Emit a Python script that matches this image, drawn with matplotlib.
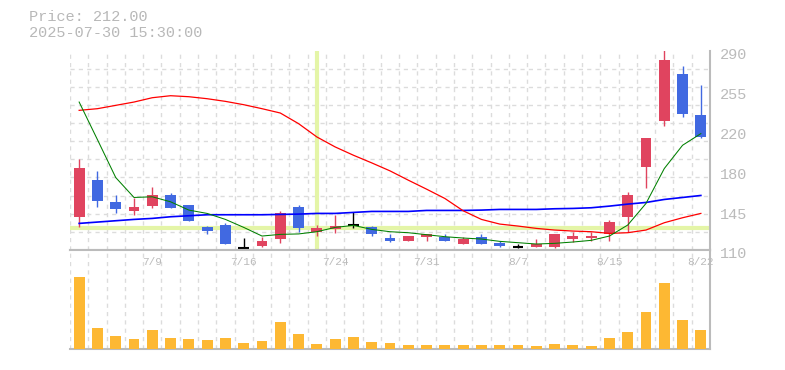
import numpy as np
import matplotlib
matplotlib.use('Agg')
import matplotlib.pyplot as plt
import matplotlib.transforms as mtransforms

plt.rcParams['font.family'] = ['Liberation Mono', 'DejaVu Sans Mono']

# daily bars, 2025-07-03 .. 2025-08-22
dates = ['7/3', '7/4', '7/7', '7/8', '7/9', '7/10', '7/11', '7/14', '7/15', '7/16',
         '7/17', '7/18', '7/22', '7/23', '7/24', '7/25', '7/28', '7/29', '7/30', '7/31',
         '8/1', '8/4', '8/5', '8/6', '8/7', '8/8', '8/12', '8/13', '8/14', '8/15',
         '8/18', '8/19', '8/20', '8/21', '8/22']
opens = [140, 173, 153, 145, 150, 160, 151, 131, 133, 112,
         114, 120, 149, 126, 129, 133, 131, 121, 118, 122,
         122, 115, 122, 116, 113, 113, 113, 120, 121, 124,
         140, 185, 226, 269, 232]
highs = [192, 181, 160, 157, 167, 161, 151, 132, 134, 121,
         122, 145, 151, 133, 142, 144, 132, 124, 123, 124,
         124, 122, 124, 118, 115, 120, 124, 126, 126, 137,
         162, 211, 291, 276, 259]
lows = [131, 149, 143, 142, 148, 148, 136, 124, 115, 109,
        113, 116, 126, 123, 125, 130, 123, 117, 118, 118,
        118, 115, 115, 113, 112, 113, 112, 117, 118, 118,
        126, 166, 222, 230, 211]
closes = [184, 154, 147, 149, 160, 148, 136, 127, 115, 112,
          118, 143, 130, 130, 132, 133, 124, 118, 123, 124,
          118, 120, 115, 114, 113, 115, 124, 123, 123, 135,
          160, 211, 281, 233, 212]
volumes = [215, 65, 40, 32, 58, 34, 32, 28, 34, 19,
           25, 82, 47, 16, 31, 37, 23, 19, 13, 12,
           12, 12, 12, 12, 12, 9, 15, 12, 9, 33,
           51, 111, 198, 87, 57]

ma_short = [243.5, 209.6, 175.4, 157.4, 158.0, 153.5, 146.0, 143.0, 137.6, 130.4,
            122.6, 124.1, 124.5, 126.5, 130.4, 132.2, 128.6, 126.5, 125.6, 123.8,
            122.0, 120.8, 119.9, 117.8, 116.6, 115.4, 116.0, 117.2, 118.7, 122.6,
            132.5, 152.0, 183.5, 204.5, 215.0]
ma_mid = [236.0, 237.5, 240.5, 243.5, 247.4, 249.2, 248.3, 246.5, 244.1, 241.1,
          237.5, 233.6, 224.0, 212.0, 203.0, 195.5, 188.6, 181.4, 173.0, 164.9,
          156.5, 145.4, 137.6, 133.4, 131.6, 129.5, 128.0, 127.1, 126.5, 125.0,
          125.6, 128.0, 134.6, 139.1, 143.0]
ma_long = [134.0, 135.2, 136.4, 137.6, 138.5, 140.0, 140.9, 141.8, 141.8, 141.8,
           141.8, 142.1, 142.4, 143.0, 143.0, 143.9, 144.8, 144.8, 144.8, 145.7,
           145.7, 145.7, 146.0, 146.6, 146.6, 146.6, 147.2, 147.5, 148.1, 149.6,
           151.4, 152.9, 155.6, 157.4, 159.2]

ytick_vals = [110, 146, 182, 218, 254, 290]
ytick_labels = ['110', '145', '180', '220', '255', '290']

cursor_idx = 13
title_lines = ['Price: 212.00', '2025-07-30 15:30:00']

UP = '#e0445f'
DOWN = '#4169e1'
GRAY = '#bbbbbb'
GRID = '#dcdcdc'

fig = plt.figure(figsize=(7.85, 3.7), dpi=100)
ax = fig.add_axes([70 / 785, 120 / 370, 640 / 785, 199.5 / 370])
axv = fig.add_axes([70 / 785, 20.7 / 370, 640 / 785, 99.3 / 370], sharex=ax)

n = len(closes)
x = np.arange(n)
w = 0.6

# grid: one column per bar, 11 rows
for a in (ax, axv):
    a.set_xticks(np.arange(-0.5, n, 1), minor=True)
    a.grid(which='minor', axis='x', color=GRID, linestyle=(0, (3, 3)), lw=1)
    a.tick_params(which='both', length=0)
    a.set_xticks([])
    a.spines['left'].set_visible(False)
    for s in ('right', 'bottom', 'top'):
        a.spines[s].set_color(GRAY)
        a.spines[s].set_linewidth(1.5)
ax.spines['top'].set_visible(False)
ax.set_yticks(np.linspace(110, 290, 12), minor=True)
ax.grid(which='minor', axis='y', color=GRID, linestyle=(0, (3, 3)), lw=1)
ax.set_axisbelow(True)

# cursor crosshair
ax.axvline(cursor_idx, color='#e4f5a7', lw=3, zorder=1)
ax.axhline(closes[cursor_idx], color='#e4f5a7', lw=3, zorder=1)

# candles
for i in range(n):
    o, h, l, c = opens[i], highs[i], lows[i], closes[i]
    if c > o:
        col = UP
    elif c < o:
        col = DOWN
    else:
        col = 'black'
    ax.vlines(i, l, h, color=col, lw=1, zorder=3)
    if c == o:
        ax.hlines(c, i - w / 2, i + w / 2, color=col, lw=1.5, zorder=3)
    else:
        ax.bar(i, abs(c - o), w, bottom=min(o, c), color=col, zorder=3)

ax.plot(x, ma_long, color='#0000ff', lw=1.2, zorder=4)
ax.plot(x, ma_mid, color='#ff0000', lw=0.9, zorder=4)
ax.plot(x, ma_short, color='#008000', lw=0.75, zorder=4)

ax.set_xlim(-0.5, n - 0.5)
ax.set_ylim(110, 290)
ax.yaxis.tick_right()
ax.set_yticks(ytick_vals)
ax.set_yticklabels(ytick_labels)
ax.tick_params(axis='y', colors=GRAY, labelsize=11, pad=7)
for t in ax.get_yticklabels():
    t.set_transform(t.get_transform() + mtransforms.ScaledTranslation(0, -3 / 100, fig.dpi_scale_trans))

# volume
axv.bar(x, volumes, w, color='#fdb833', zorder=3)
axv.set_ylim(0, 297)
axv.set_yticks([])
for i in range(4, n, 5):
    axv.text(i, 0.876, dates[i], transform=axv.get_xaxis_transform(),
             ha='center', va='center', color=GRAY, fontsize=8, zorder=5)

fig.text(29 / 785, 1 - 17 / 370, title_lines[0], color='#b8b8b8', fontsize=11, va='center')
fig.text(29 / 785, 1 - 33 / 370, title_lines[1], color='#b8b8b8', fontsize=11, va='center')

fig.savefig('out.png', dpi=100)
